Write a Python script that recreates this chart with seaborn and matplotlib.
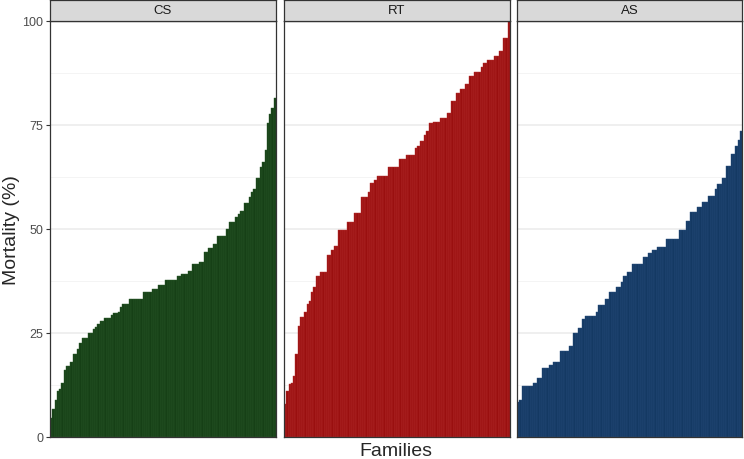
"""Family mortality per challenge test, sorted bar facets."""

import matplotlib.pyplot as plt
import pandas as pd
import seaborn as sns


# Mortality (%) per family, already sorted ascending within each test
cs_mortality = [
    4.5, 6.7, 9.0, 11.0, 11.5, 13.0, 16.0, 17.0, 17.0, 18.0,
    20.0, 20.0, 21.2, 22.6, 23.8, 23.8, 23.8, 24.9, 24.9, 26.0,
    26.5, 27.2, 27.8, 27.8, 28.5, 28.5, 28.5, 29.4, 29.8, 29.8,
    30.0, 31.2, 32.0, 32.0, 32.0, 33.1, 33.1, 33.1, 33.1, 33.1,
    33.1, 34.8, 34.8, 34.8, 34.8, 35.6, 35.6, 35.6, 36.6, 36.6,
    36.6, 37.7, 37.7, 37.7, 37.7, 37.7, 38.8, 38.8, 39.2, 39.2,
    39.2, 40.0, 40.0, 41.6, 41.6, 41.6, 42.1, 42.1, 44.5, 44.5,
    45.4, 45.4, 46.4, 46.4, 48.2, 48.2, 48.2, 48.2, 50.0, 51.8,
    51.8, 51.8, 52.8, 53.6, 54.4, 54.4, 56.2, 56.2, 57.6, 59.0,
    59.6, 62.3, 62.3, 64.8, 66.0, 69.0, 75.6, 77.6, 79.2, 81.5,
]
rt_mortality = [
    8.0, 11.0, 12.7, 13.0, 14.7, 20.0, 26.8, 28.8, 28.8, 30.0,
    32.0, 32.8, 34.8, 36.0, 38.8, 38.8, 39.7, 39.7, 39.7, 43.8,
    43.8, 45.0, 45.8, 45.8, 49.8, 49.8, 49.8, 49.8, 51.8, 51.8,
    51.8, 53.8, 53.8, 53.8, 57.8, 57.8, 57.8, 58.8, 61.0, 61.0,
    61.8, 62.8, 62.8, 62.8, 62.8, 62.8, 64.8, 64.8, 64.8, 64.8,
    64.8, 66.8, 66.8, 66.8, 67.8, 67.8, 67.8, 67.8, 69.5, 70.0,
    71.2, 71.2, 72.6, 73.6, 75.6, 75.6, 75.8, 75.8, 75.8, 76.8,
    76.8, 76.8, 77.8, 77.8, 80.8, 80.8, 82.7, 82.7, 83.7, 83.7,
    84.9, 84.9, 86.7, 86.7, 87.8, 87.8, 87.8, 88.9, 89.8, 89.8,
    90.7, 90.7, 90.7, 91.7, 91.7, 92.9, 92.9, 95.8, 95.8, 100.0,
]
as_mortality = [
    8.3, 8.8, 12.3, 12.3, 12.3, 12.3, 12.3, 12.9, 12.9, 14.1,
    14.1, 16.5, 16.5, 16.5, 17.3, 17.3, 18.1, 18.1, 18.1, 20.6,
    20.6, 20.6, 20.6, 21.8, 21.8, 24.9, 24.9, 26.1, 26.1, 28.4,
    29.2, 29.2, 29.2, 29.2, 29.2, 30.0, 31.7, 31.7, 31.7, 33.2,
    33.2, 34.8, 34.8, 34.8, 36.0, 36.0, 37.2, 38.8, 38.8, 39.7,
    39.7, 41.5, 41.5, 41.5, 41.5, 41.5, 43.2, 43.2, 44.2, 44.2,
    45.0, 45.0, 45.6, 45.6, 45.6, 45.6, 47.6, 47.6, 47.6, 47.6,
    47.6, 47.6, 49.8, 49.8, 49.8, 52.0, 52.0, 54.2, 54.2, 54.2,
    55.2, 55.2, 56.4, 56.4, 56.4, 58.0, 58.0, 58.0, 59.6, 60.8,
    60.8, 62.2, 62.2, 65.1, 65.1, 68.0, 68.0, 70.0, 71.5, 73.5,
]
tests = ["CS", "RT", "AS"]
test_colors = {"CS": "#164016", "RT": "#9A0F0F", "AS": "#143963"}
edge_colors = {"CS": "#2C5C2C", "RT": "#B83232", "AS": "#2A507E"}
y_ticks = [0, 25, 50, 75, 100]

sns.set_style("white")
plt.rcParams["font.family"] = ["Liberation Sans", "DejaVu Sans"]

W, H = 744, 460
PANEL_X = [(50, 276), (284, 510), (517, 742)]
PANEL_TOP, PANEL_BOTTOM = 22, 438
STRIP_TOP = 1


def px_box(x0, x1, y_top, y_bottom):
    """Convert pixel box (top-left origin) to figure fraction rect."""
    return [x0 / W, 1 - y_bottom / H, (x1 - x0) / W, (y_bottom - y_top) / H]


data = {"CS": cs_mortality, "RT": rt_mortality, "AS": as_mortality}
df = pd.concat(
    [
        pd.DataFrame({"test": t, "family": range(len(v)), "mortality": v})
        for t, v in data.items()
    ],
    ignore_index=True,
)

fig = plt.figure(figsize=(W / 100, H / 100), dpi=100)

for k, (test, (x0, x1)) in enumerate(zip(tests, PANEL_X)):
    ax = fig.add_axes(px_box(x0, x1, PANEL_TOP, PANEL_BOTTOM))
    sub = df[df["test"] == test]

    # minor and major horizontal grid, ggplot-like
    for y in [12.5, 37.5, 62.5, 87.5]:
        ax.axhline(y, color="#F2F2F2", linewidth=0.6, zorder=0)
    for y in [25, 50, 75]:
        ax.axhline(y, color="#EBEBEB", linewidth=1.1, zorder=0)

    sns.barplot(
        data=sub,
        x="family",
        y="mortality",
        color=test_colors[test],
        saturation=1,
        width=1.0,
        linewidth=0.3,
        edgecolor=edge_colors[test],
        errorbar=None,
        ax=ax,
        zorder=2,
    )
    ax.set_xlim(-0.5, len(sub) - 0.5)
    ax.set_ylim(0, 100)
    ax.set_xticks([])
    ax.set_xlabel("")
    ax.set_ylabel("")
    for spine in ax.spines.values():
        spine.set_color("#333333")
        spine.set_linewidth(0.9)
        spine.set_visible(True)
        spine.set_zorder(3)

    ax.set_yticks(y_ticks)
    if k == 0:
        ax.tick_params(
            axis="y", length=3, width=0.8, color="#333333",
            labelsize=9, labelcolor="#4D4D4D", pad=2, left=True,
        )
    else:
        ax.tick_params(axis="y", left=False, labelleft=False)

    # facet strip
    sax = fig.add_axes(px_box(x0, x1, STRIP_TOP, PANEL_TOP))
    sax.set_facecolor("#D9D9D9")
    sax.set_xticks([])
    sax.set_yticks([])
    for spine in sax.spines.values():
        spine.set_color("#333333")
        spine.set_linewidth(0.9)
    sax.text(0.5, 0.5, test, ha="center", va="center", fontsize=9.5,
             color="#1A1A1A", transform=sax.transAxes)

fig.text(12 / W, 1 - 230 / H, "Mortality (%)", rotation=90,
         ha="center", va="center", fontsize=14)
fig.text(396 / W, 1 - 452 / H, "Families", ha="center", va="center",
         fontsize=14)

plt.savefig("out.png", dpi=100)
plt.close()
